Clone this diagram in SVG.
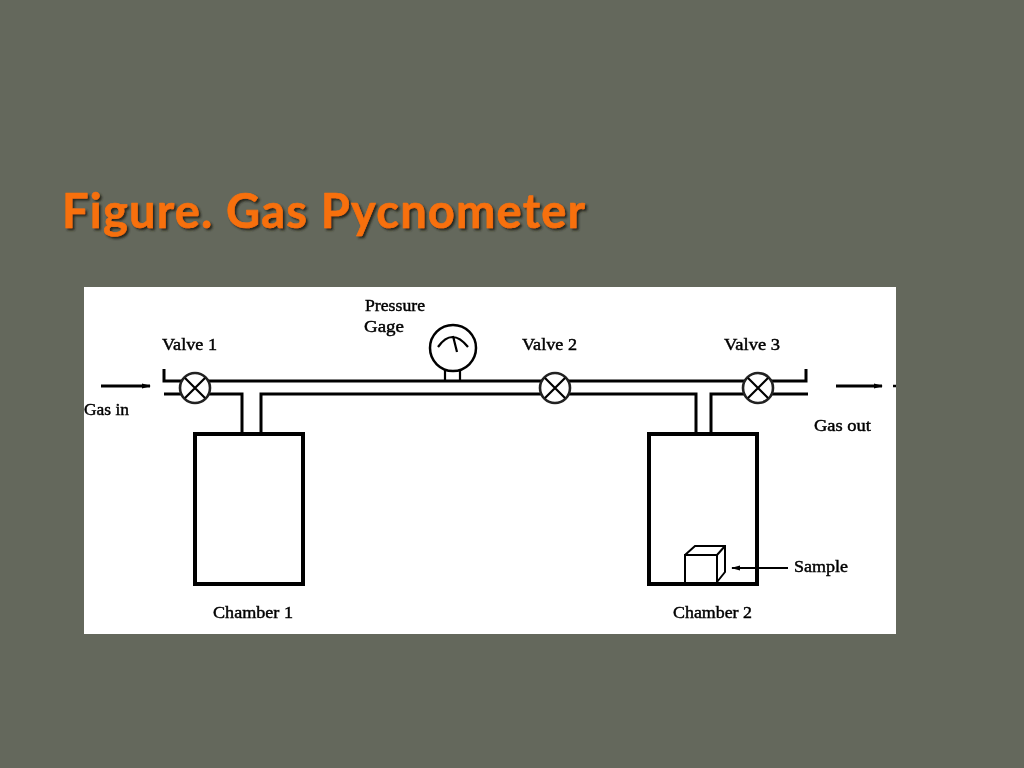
<svg xmlns="http://www.w3.org/2000/svg" width="1024" height="768" viewBox="0 0 1024 768">
<style>
.l{font-family:"Liberation Serif",serif;font-size:17px;fill:#000;stroke:#000;stroke-width:.45}
.p{fill:none;stroke:#000;stroke-width:3}
.t{fill:none;stroke:#000;stroke-width:2.200}
.v{fill:#fff;stroke:#222;stroke-width:2.600}
.c{fill:#fff;stroke:#000;stroke-width:4}
.title{font-family:"Lato","Noto Sans",sans-serif;font-weight:700;font-size:47px}
</style>
<defs>
<marker id="a" markerWidth="9" markerHeight="6" refX="8" refY="3" orient="auto" markerUnits="userSpaceOnUse"><path d="M0 .5L9 3L0 5.500z" fill="#000"/></marker>
<filter id="b" x="-5%" y="-5%" width="110%" height="110%"><feGaussianBlur stdDeviation=".6"/></filter>
<filter id="s" x="-5%" y="-20%" width="110%" height="140%"><feDropShadow dx="2" dy="2" stdDeviation=".8" flood-color="#26261a"/></filter>
</defs>
<rect width="1024" height="768" fill="#64685c"/>
<text id="title" class="title" x="62" y="228" fill="#f7700c" stroke="#f7700c" stroke-width=".6" stroke-linejoin="round" textLength="523" lengthAdjust="spacing" filter="url(#s)">Figure. Gas Pycnometer</text>
<rect x="84" y="287" width="812" height="347" fill="#fff"/>
<g filter="url(#b)">
<g id="chamber1"><rect class="c" x="195" y="434" width="108" height="150"/></g>
<g id="chamber2"><rect class="c" x="649" y="434" width="108" height="150"/></g>
<g id="sample"><path d="M685 582V555L695 546H725V572L717 582Z" fill="#fff"/><path d="M685 582V555H717V582M685 555L695 546H725V572L717 582M717 555L725 546" fill="none" stroke="#000" stroke-width="2"/></g>
<g id="connectors">
<path class="p" d="M164 369V381H806V369"/>
<path class="p" d="M164 394H242V432M261 432V394H696V432M711 432V394H808"/>
<path class="t" d="M445 381V367M460 381V367"/>
<path class="p" d="M101 386H150" marker-end="url(#a)"/>
<path class="p" d="M836 386H882" marker-end="url(#a)"/>
<path d="M893 386H896" stroke="#000" stroke-width="2.500"/>
<path class="t" d="M788 568H732" marker-end="url(#a)"/>
</g>
<g id="valve1"><circle class="v" cx="195" cy="388" r="15"/><path class="t" d="M185 378L205 398M205 378L185 398"/></g>
<g id="valve2"><circle class="v" cx="555" cy="388" r="15"/><path class="t" d="M545 378L565 398M565 378L545 398"/></g>
<g id="valve3"><circle class="v" cx="758" cy="388" r="15"/><path class="t" d="M748 378L768 398M768 378L748 398"/></g>
<g id="gauge"><circle cx="453" cy="348" r="23" fill="#fff" stroke="#000" stroke-width="2.500"/><path d="M438 347Q452 327 468 347M453 336L457 352" fill="none" stroke="#000" stroke-width="2.200"/></g>
<text class="l" x="365" y="311" textLength="60" lengthAdjust="spacingAndGlyphs">Pressure</text>
<text class="l" x="364" y="332" textLength="40" lengthAdjust="spacingAndGlyphs">Gage</text>
<text class="l" x="162" y="350" textLength="55" lengthAdjust="spacingAndGlyphs">Valve 1</text>
<text class="l" x="522" y="350" textLength="55" lengthAdjust="spacingAndGlyphs">Valve 2</text>
<text class="l" x="724" y="350" textLength="56" lengthAdjust="spacingAndGlyphs">Valve 3</text>
<text class="l" x="84" y="415" textLength="45" lengthAdjust="spacingAndGlyphs">Gas in</text>
<text class="l" x="814" y="431" textLength="57" lengthAdjust="spacingAndGlyphs">Gas out</text>
<text class="l" x="794" y="572" textLength="54" lengthAdjust="spacingAndGlyphs">Sample</text>
<text class="l" x="213" y="618" textLength="80" lengthAdjust="spacingAndGlyphs">Chamber 1</text>
<text class="l" x="673" y="618" textLength="79" lengthAdjust="spacingAndGlyphs">Chamber 2</text>
</g>
</svg>
